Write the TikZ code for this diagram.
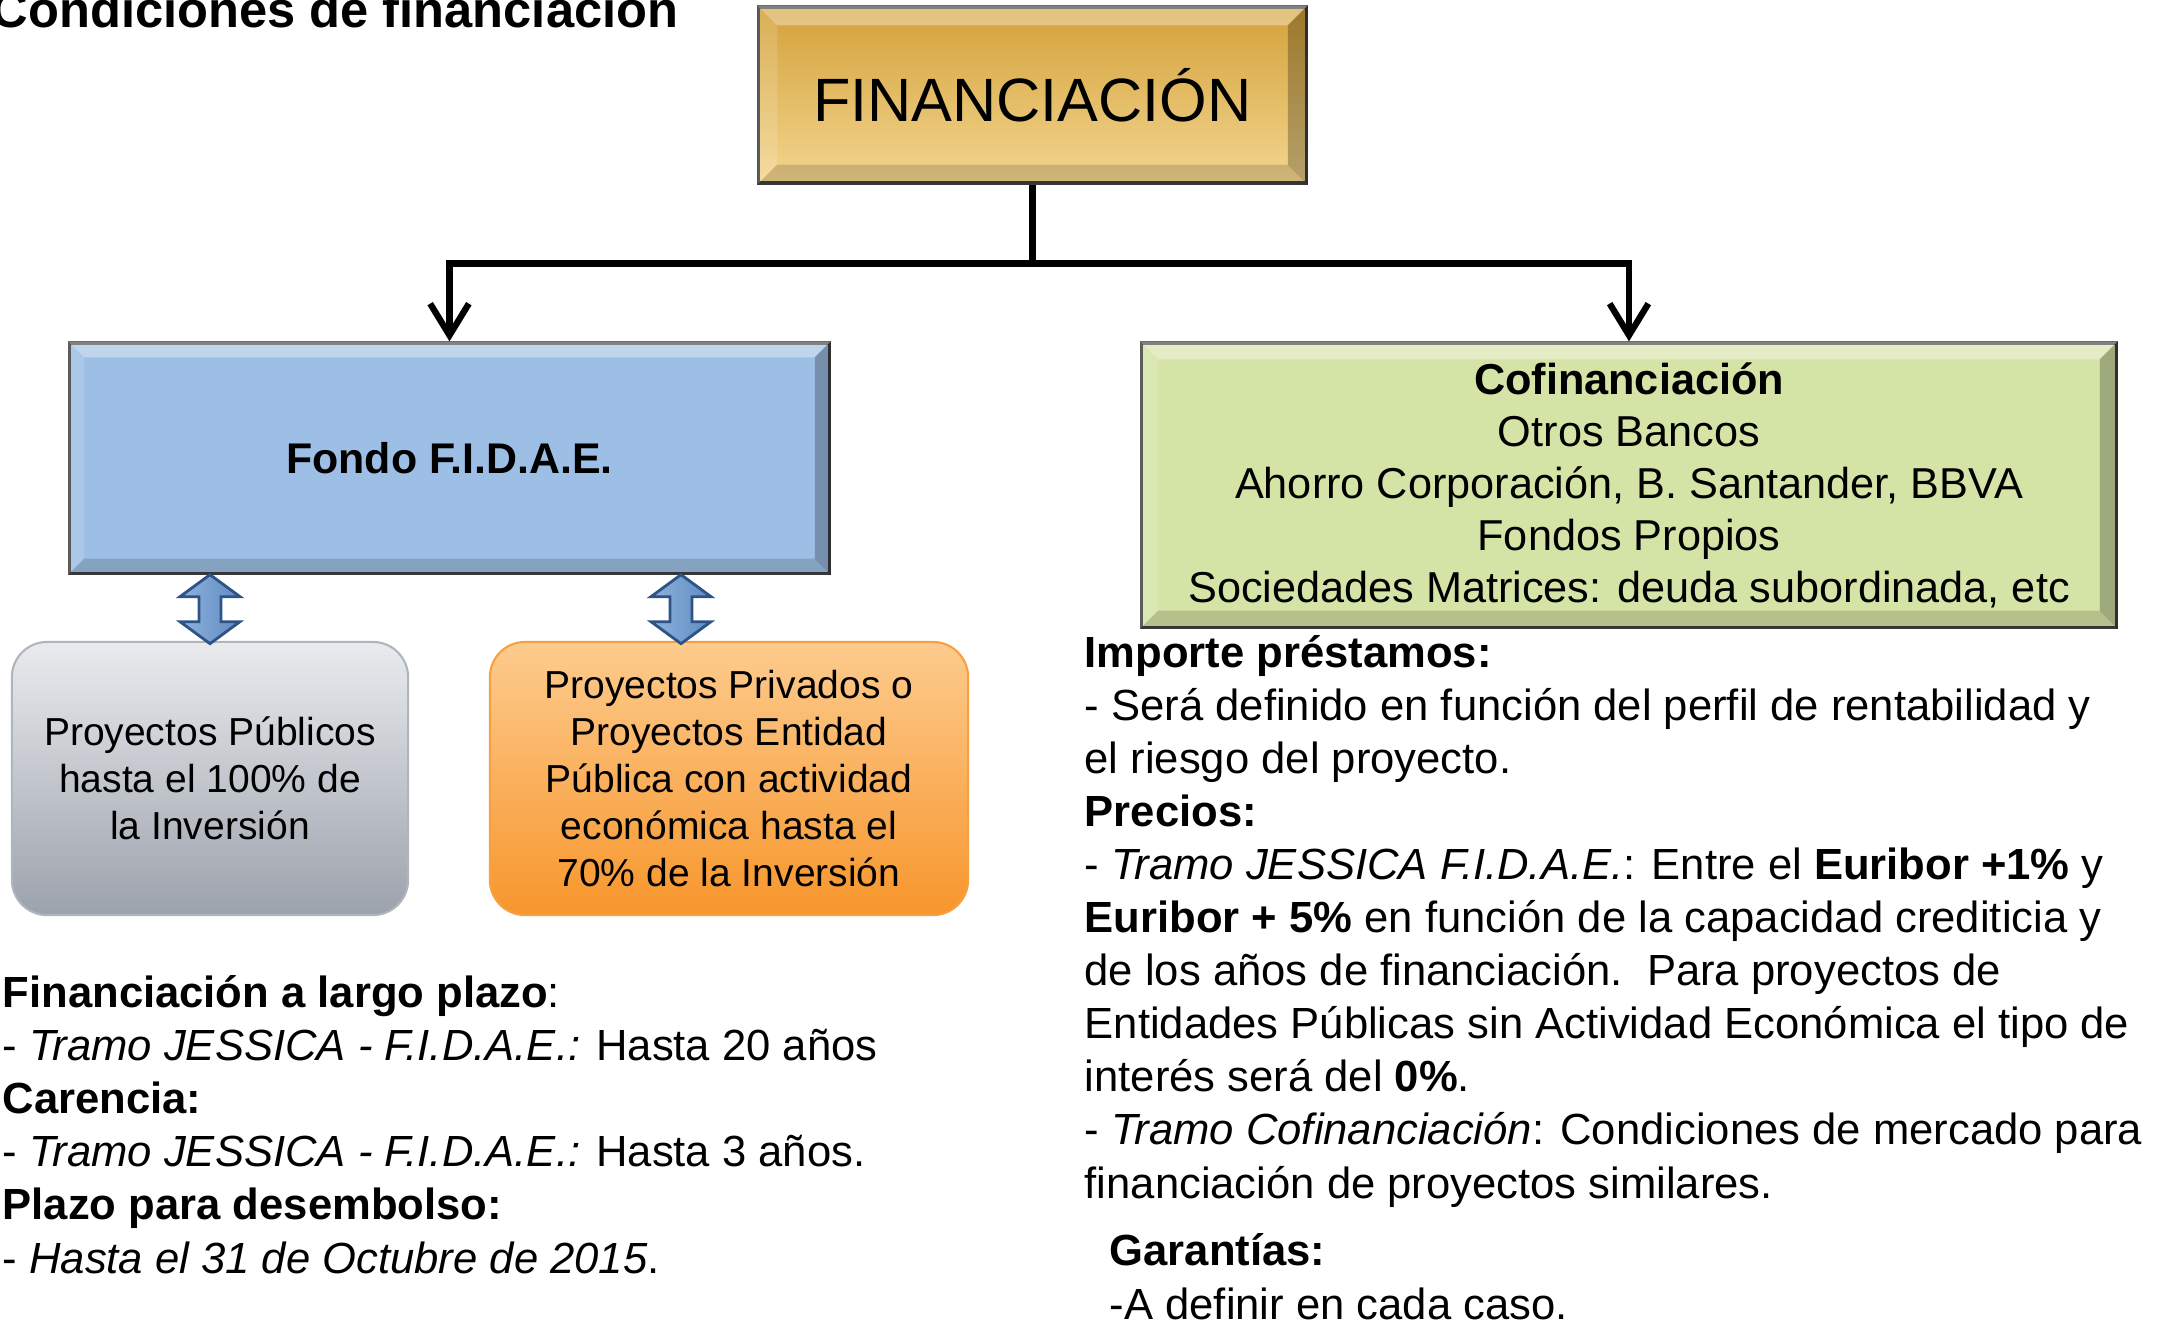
\documentclass[tikz,border=0pt]{standalone}
\usepackage{fontspec}
\setmainfont{Liberation Sans}
\usepackage{xcolor}
\usepackage{tikz}
\usetikzlibrary{
  arrows.meta,
  positioning,
  calc
}

\definecolor{goldtop}{HTML}{D3A13A}
\definecolor{goldbot}{HTML}{F3D68F}
\definecolor{fondoblue}{HTML}{9DBFE6}
\definecolor{cofingreen}{HTML}{D4E3A6}
\definecolor{greytop}{HTML}{E9EBEE}
\definecolor{greybot}{HTML}{9CA2AC}
\definecolor{orangetop}{HTML}{FDCB8E}
\definecolor{orangebot}{HTML}{F7962C}
\definecolor{dbltop}{HTML}{8FB2DC}
\definecolor{dblblue}{HTML}{5F8BC2}
\definecolor{dblline}{HTML}{2E5487}

\begin{document}
\begin{tikzpicture}[
    x=0.01cm, y=-0.01cm,
    font=\fontsize{12.4}{15.08}\selectfont,
    bevelbox/.style={draw=black!75, line width=0.9pt, inner sep=0pt, align=center},
    roundbox/.style={rounded corners=10pt, inner sep=0pt, line width=0.6pt, align=center,
                     font=\fontsize{11.1}{13.3}\selectfont},
    conn/.style={line width=1.8pt, -{Straight Barb[length=9pt, width=11pt, line width=1.8pt]}},
    dbl/.style={left color=dbltop, right color=dblblue, draw=dblline, line width=0.8pt,
                line join=miter},
    txt/.style={anchor=base west, align=left, inner sep=0pt},
  ]
  \useasboundingbox (0,0) rectangle (2160,1323);

  % Title (cut at the page edge)
  \node[anchor=base east, inner sep=0pt, font=\fontsize{14.4}{17}\selectfont\bfseries]
    (title) at (679,27) {Condiciones de financiación};

  % Boxes
  \node[bevelbox, minimum width=5.47cm, minimum height=1.76cm,
        top color=goldtop, bottom color=goldbot,
        font=\fontsize{17.4}{20}\selectfont] (fin) at (1032.5,95) {FINANCIACIÓN};
  \node[bevelbox, minimum width=7.59cm, minimum height=2.30cm, fill=fondoblue,
        font=\fontsize{12.2}{15}\selectfont\bfseries] (fondo) at (449.5,458) {Fondo F.I.D.A.E.};
  \node[bevelbox, minimum width=9.74cm, minimum height=2.84cm, fill=cofingreen,
        font=\fontsize{12.3}{14.78}\selectfont] (cofin) at (1629,485)
    {\textbf{Cofinanciación}\\Otros Bancos\\Ahorro Corporación, B. Santander, BBVA\\
     Fondos Propios\\Sociedades Matrices: deuda subordinada, etc};

  % Bevel edges
  \foreach \b/\w in {fin/20, fondo/16, cofin/18} {
    \fill[white, opacity=.35] (\b.north west) -- (\b.north east)
      -- ($(\b.north east)+(-\w,\w)$) -- ($(\b.north west)+(\w,\w)$) -- cycle;
    \fill[white, opacity=.15] (\b.north west) -- ($(\b.north west)+(\w,\w)$)
      -- ($(\b.south west)+(\w,-\w)$) -- (\b.south west) -- cycle;
    \fill[black, opacity=.15] (\b.south west) -- ($(\b.south west)+(\w,-\w)$)
      -- ($(\b.south east)+(-\w,-\w)$) -- (\b.south east) -- cycle;
    \fill[black, opacity=.25] (\b.south east) -- ($(\b.south east)+(-\w,-\w)$)
      -- ($(\b.north east)+(-\w,\w)$) -- (\b.north east) -- cycle;
  }

  % Project boxes
  \node[roundbox, minimum width=3.96cm, minimum height=2.73cm, draw=greybot!80,
        top color=greytop, bottom color=greybot] (pub) at (210,778.5)
    {Proyectos Públicos\\hasta el 100\% de\\la Inversión};
  \node[roundbox, minimum width=4.78cm, minimum height=2.73cm, draw=orangebot!90,
        top color=orangetop, bottom color=orangebot] (priv) at (729,778.5)
    {Proyectos Privados o\\Proyectos Entidad\\Pública con actividad\\económica hasta el\\
     70\% de la Inversión};

  % Connectors
  \draw[conn] (fin.south) -- ++(0,79) coordinate (split) -| (fondo.north);
  \draw[conn] (split) -| (cofin.north);

  % Double arrows
  \foreach \n/\dx in {pub/0, priv/-48} {
    \draw[dbl, shift={($(\n.north |- fondo.south)+(\dx,0)$)}]
      (0,0) -- (30,22) -- (11,22) -- (11,47) -- (30,47) -- (0,69)
      -- (-30,47) -- (-11,47) -- (-11,22) -- (-30,22) -- cycle;
  }

  % Left notes (anchored at last baseline)
  \node[txt] (plazo) at (2,1273)
    {\textbf{Financiación a largo plazo}:\\
     - \textit{Tramo JESSICA - F.I.D.A.E.:} Hasta 20 años\\
     \textbf{Carencia:}\\
     - \textit{Tramo JESSICA - F.I.D.A.E.:} Hasta 3 años.\\
     \textbf{Plazo para desembolso:}\\
     - \textit{Hasta el 31 de Octubre de 2015}.};

  % Right notes
  \node[txt] (precios) at (1084,1198)
    {\textbf{Importe préstamos:}\\
     - Será definido en función del perfil de rentabilidad y\\
     el riesgo del proyecto.\\
     \textbf{Precios:}\\
     - \textit{Tramo JESSICA F.I.D.A.E.}: Entre el \textbf{Euribor +1\%} y\\
     \textbf{Euribor + 5\%} en función de la capacidad crediticia y\\
     de los años de financiación.\ \ Para proyectos de\\
     Entidades Públicas sin Actividad Económica el tipo de\\
     interés será del \textbf{0\%}.\\
     - \textit{Tramo Cofinanciación}: Condiciones de mercado para\\
     financiación de proyectos similares.};
  \node[txt] (garantias) at (1109,1319)
    {\textbf{Garantías:}\\-A definir en cada caso.};

\end{tikzpicture}
\end{document}
